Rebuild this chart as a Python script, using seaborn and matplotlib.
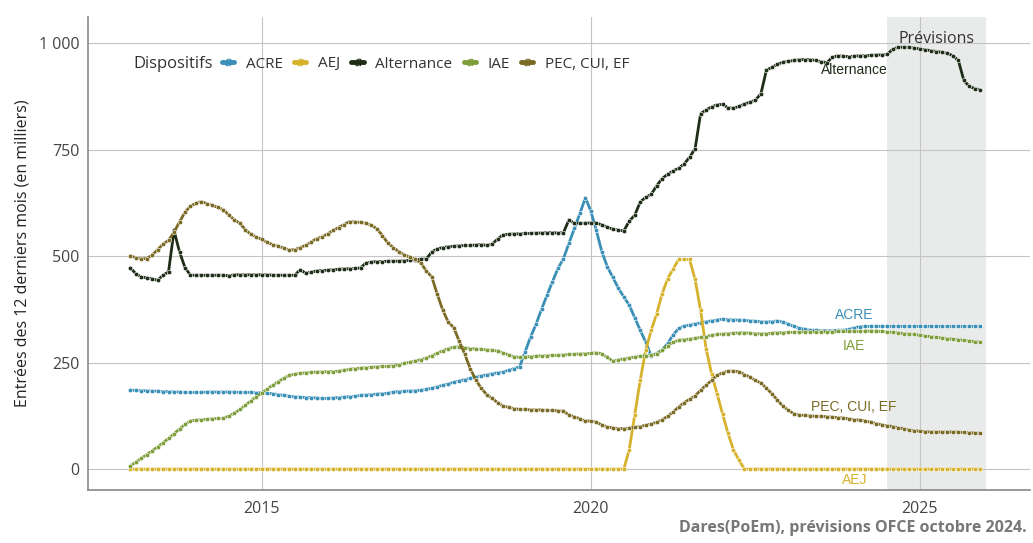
import numpy as np
import pandas as pd
import seaborn as sns
import matplotlib.pyplot as plt
from matplotlib.lines import Line2D
from matplotlib.patches import Rectangle

# monthly values, Jan 2013 -> Dec 2025 (thousands, rolling 12 months)
start_year = 2013
n_months = 156

acre = [
    185, 185, 184, 184, 183, 183, 182, 182, 181, 181, 180, 180,
    180, 180, 181, 181, 181, 181, 181, 181, 180, 180, 180, 179,
    179, 178, 177, 175, 173, 171, 170, 169, 168, 168, 167, 166,
    166, 167, 168, 169, 170, 171, 173, 174, 175, 176, 177, 178,
    181, 182, 183, 183, 184, 185, 187, 190, 193, 197, 200, 204,
    207, 210, 213, 216, 219, 221, 224, 226, 228, 232, 236, 240,
    275, 310, 340, 375, 408, 440, 471, 494, 530, 565, 600, 637,
    605, 560, 510, 475, 450, 425, 404, 385, 355, 326, 298, 265,
    272, 280, 295, 315, 330, 336, 338, 341, 343, 346, 348, 350,
    352, 351, 350, 350, 349, 348, 347, 346, 345, 346, 348, 345,
    340, 335, 331, 328, 326, 326, 325, 325, 325, 326, 326, 328,
    332, 334, 335, 335, 335, 335, 335, 335, 335, 335, 335, 335,
    335, 335, 335, 335, 335, 335, 335, 335, 335, 335, 335, 335,
]

aej = [0] * 91 + [
    46, 127, 209, 279, 326,
    365, 412, 447, 470, 492, 492, 492, 445, 373, 283, 224, 177,
    130, 84, 45, 21,
] + [0] * 44

alternance = [
    473, 459, 451, 449, 447, 443, 455, 463, 560, 510, 473, 455,
    455, 455, 455, 455, 455, 455, 454, 456, 456, 456, 456, 456,
    456, 456, 455, 455, 455, 455, 455, 468, 460, 462, 465, 466,
    467, 468, 469, 470, 470, 471, 472, 484, 486, 487, 487, 488,
    488, 488, 489, 490, 491, 493, 493, 510, 517, 520, 522, 523,
    524, 525, 525, 526, 527, 525, 528, 540, 550, 551, 552, 552,
    553, 553, 554, 554, 555, 555, 554, 555, 585, 577, 577, 577,
    578, 578, 573, 568, 563, 561, 559, 582, 596, 627, 638, 645,
    665, 682, 692, 700, 706, 716, 732, 752, 834, 843, 850, 855,
    856, 848, 847, 851, 857, 861, 866, 881, 936, 943, 950, 955,
    957, 959, 961, 961, 961, 959, 956, 954, 966, 970, 969, 968,
    969, 970, 970, 971, 972, 972, 973, 985, 990, 990, 990, 988,
    986, 984, 982, 980, 978, 976, 970, 959, 912, 898, 893, 890,
]

iae = [
    7, 16, 25, 34, 43, 52, 62, 72, 83, 94, 105, 113,
    115, 116, 117, 118, 119, 119, 125, 131, 140, 150, 160, 170,
    179, 188, 197, 205, 213, 220, 223, 225, 226, 227, 228, 228,
    229, 229, 230, 232, 234, 236, 237, 238, 239, 240, 241, 241,
    243, 245, 248, 251, 254, 257, 261, 266, 272, 278, 283, 286,
    287, 285, 283, 282, 281, 280, 279, 277, 273, 268, 264, 262,
    263, 264, 265, 266, 266, 267, 267, 268, 269, 270, 270, 271,
    272, 273, 271, 262, 254, 256, 259, 261, 263, 265, 266, 267,
    270, 279, 290, 298, 302, 304, 305, 307, 309, 311, 314, 316,
    317, 318, 319, 320, 320, 319, 318, 317, 318, 319, 320, 320,
    321, 321, 322, 322, 322, 322, 322, 322, 322, 323, 323, 323,
    323, 323, 324, 324, 324, 323, 322, 321, 320, 318, 317, 316,
    314, 312, 311, 309, 308, 306, 305, 304, 302, 301, 299, 298,
]

pec = [
    501, 496, 494, 494, 502, 515, 528, 537, 556, 580, 603, 617,
    624, 628, 623, 619, 614, 609, 596, 585, 577, 562, 551, 545,
    539, 532, 527, 523, 519, 514, 515, 520, 525, 533, 541, 545,
    552, 560, 567, 574, 581, 580, 579, 577, 572, 564, 548, 530,
    520, 510, 503, 497, 492, 484, 465, 451, 410, 373, 345, 332,
    300, 270, 236, 210, 190, 175, 166, 156, 148, 145, 142, 140,
    140, 139, 139, 139, 138, 138, 137, 136, 127, 123, 118, 113,
    113, 110, 104, 99, 97, 95, 95, 96, 98, 100, 103, 106,
    110, 116, 124, 134, 146, 156, 164, 172, 185, 197, 208, 220,
    226, 230, 230, 229, 222, 216, 208, 202, 190, 177, 162, 148,
    138, 130, 127, 126, 125, 124, 124, 123, 122, 121, 120, 118,
    116, 115, 113, 110, 107, 104, 102, 100, 97, 95, 92, 90,
    89, 88, 87, 87, 87, 87, 87, 87, 86, 85, 85, 84,
]

series = {
    "ACRE": acre,
    "AEJ": aej,
    "Alternance": alternance,
    "IAE": iae,
    "PEC, CUI, EF": pec,
}
colors = {
    "ACRE": "#3a8fb7",
    "AEJ": "#d6b22c",
    "Alternance": "#1e2d17",
    "IAE": "#7e9d3b",
    "PEC, CUI, EF": "#7a6a24",
}

forecast_start = 2024.5
forecast_end = 2026.0

time = start_year + np.arange(n_months) / 12
df = pd.concat(
    [pd.DataFrame({"date": time, "valeur": v, "dispositif": k}) for k, v in series.items()],
    ignore_index=True,
)

sns.set_theme(style="white")
plt.rcParams["font.family"] = ["Open Sans", "DejaVu Sans"]

fig = plt.figure(figsize=(10.33, 5.43), dpi=100)
ax = fig.add_axes([0.0852, 0.0976, 0.9118, 0.8711])

ax.add_patch(Rectangle((forecast_start, -49), forecast_end - forecast_start, 1110,
                       facecolor="#e9ebea", edgecolor="none", zorder=0))

sns.lineplot(data=df, x="date", y="valeur", hue="dispositif", palette=colors,
             marker="o", markersize=3.2, markeredgewidth=0.4, linewidth=2,
             legend=False, ax=ax, zorder=3)

ax.set_xlim(2012.36, 2026.67)
ax.set_ylim(-49, 1061)
ax.set_xticks([2015, 2020, 2025])
ax.set_yticks([0, 250, 500, 750, 1000])
ax.set_yticklabels(["0", "250", "500", "750", "1 000"])
ax.grid(True, color="#c4c4c4", linewidth=0.8)
ax.set_axisbelow(True)
ax.set_xlabel("")
ax.set_ylabel("Entrées des 12 derniers mois (en milliers)", fontsize=11.5,
              color="#222222", labelpad=6)
ax.tick_params(axis="both", labelsize=11.5, colors="#444444", length=4)
ax.tick_params(axis="y", direction="in", pad=6)
ax.tick_params(axis="x", direction="in", pad=8)
for s in ["top", "right"]:
    ax.spines[s].set_visible(False)
for s in ["left", "bottom"]:
    ax.spines[s].set_color("#888888")
    ax.spines[s].set_linewidth(1.2)

ax.text(2025.25, 1010, "Prévisions", ha="center", va="center", fontsize=11.5, color="#333333")

label_font = ["Liberation Sans", "DejaVu Sans"]
ax.text(2024.0, 936, "Alternance", ha="center", va="center", fontsize=10,
        color=colors["Alternance"], family=label_font)
ax.text(2024.0, 361, "ACRE", ha="center", va="center", fontsize=10,
        color=colors["ACRE"], family=label_font)
ax.text(2024.0, 288, "IAE", ha="center", va="center", fontsize=10,
        color=colors["IAE"], family=label_font)
ax.text(2024.0, 145, "PEC, CUI, EF", ha="center", va="center", fontsize=10,
        color=colors["PEC, CUI, EF"], family=label_font)
ax.text(2024.0, -26, "AEJ", ha="center", va="center", fontsize=10,
        color=colors["AEJ"], family=label_font)

# legend with inline title
fig.text(133 / 1033, 1 - 64 / 543, "Dispositifs", ha="left", va="center",
         fontsize=12, color="#333333")
handles = [Line2D([0], [0], color=c, lw=3.5, marker="$a$", markersize=5.5,
                  markeredgewidth=0) for c in colors.values()]
fig.legend(handles, list(colors.keys()), loc="center left",
           bbox_to_anchor=(222 / 1033, 1 - 64 / 543), ncol=5, frameon=False,
           fontsize=11, handlelength=0.8, handletextpad=0.75, columnspacing=0.75,
           borderpad=0, borderaxespad=0, labelcolor="#333333")

fig.text(0.994, 0.012, "Dares(PoEm), prévisions OFCE octobre 2024.", ha="right",
         va="bottom", fontsize=11.5, fontweight="bold", color="#777777")

fig.savefig("out.png", dpi=100)
